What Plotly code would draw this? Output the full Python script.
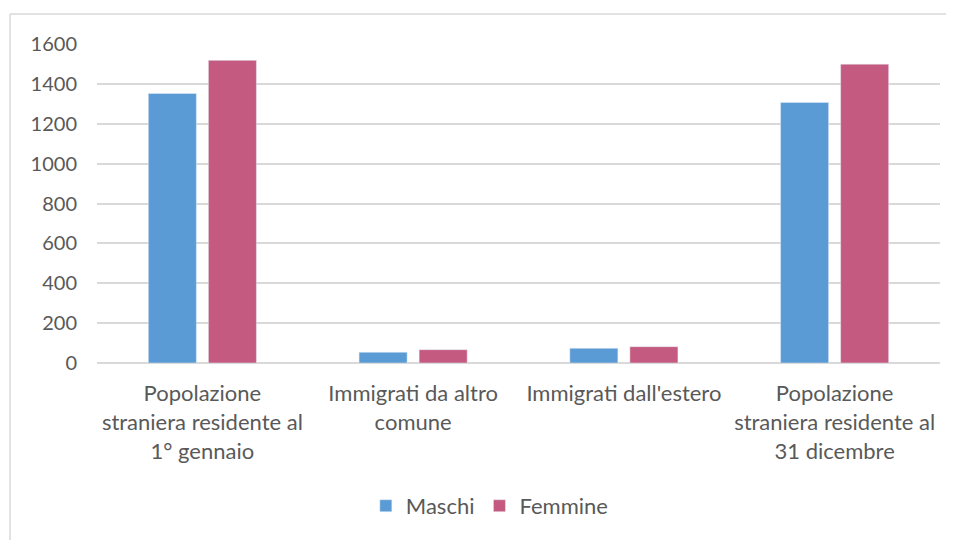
import plotly.graph_objects as go

categories = [
    "Popolazione<br>straniera residente al<br>1° gennaio",
    "Immigrati da altro<br>comune",
    "Immigrati dall'estero",
    "Popolazione<br>straniera residente al<br>31 dicembre",
]
maschi = [1352, 54, 74, 1307]
femmine = [1518, 67, 82, 1499]

font_family = "Lato, 'Open Sans', sans-serif"
text_color = "#595959"

fig = go.Figure()
fig.add_trace(go.Bar(x=categories, y=maschi, name="Maschi", marker_color="#5B9BD5"))
fig.add_trace(go.Bar(x=categories, y=femmine, name="Femmine", marker_color="#C55A80"))

# chart area border (top and left edges are visible in the original)
border = dict(color="#D9D9D9", width=1.5)
fig.add_shape(type="line", xref="paper", yref="paper",
              x0=-0.1032, x1=1.2, y0=1.094, y1=1.094, line=border, layer="below")
fig.add_shape(type="line", xref="paper", yref="paper",
              x0=-0.1032, x1=-0.1032, y0=-0.7, y1=1.094, line=border, layer="below")

fig.update_layout(
    width=946, height=532,
    margin=dict(l=89, r=14, t=36, b=177),
    plot_bgcolor="white", paper_bgcolor="white",
    barmode="group", bargap=0.43, bargroupgap=0.2,
    font=dict(family=font_family, size=20, color=text_color),
    legend=dict(orientation="h", x=0.466, xanchor="center", y=-0.448, yanchor="middle",
                font=dict(size=22, color=text_color), itemwidth=30),
    xaxis=dict(showgrid=False, tickfont=dict(size=22), ticks="outside", ticklen=11,
               tickcolor="white", showline=False),
    yaxis=dict(range=[0, 1600], dtick=200, gridcolor="#D9D9D9", gridwidth=1.5,
               zeroline=True, zerolinecolor="#D9D9D9", zerolinewidth=1.5,
               tickfont=dict(size=20), ticks="outside", ticklen=15, tickcolor="white"),
)

fig.write_html("out.html")
